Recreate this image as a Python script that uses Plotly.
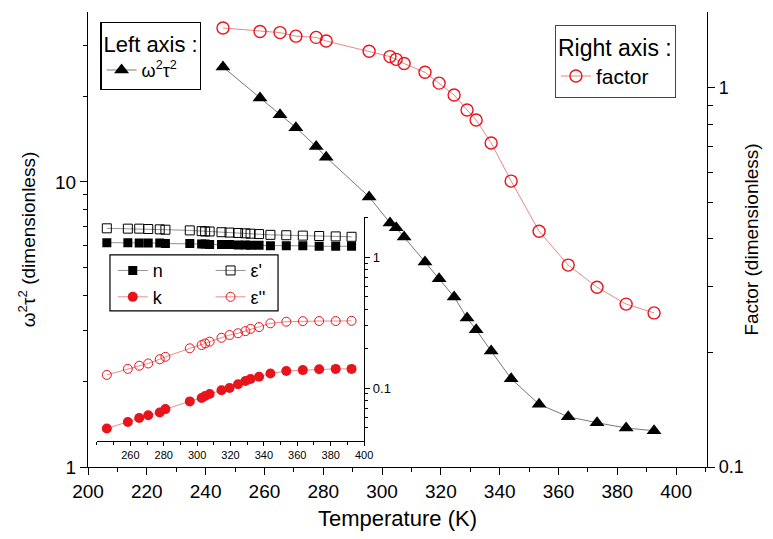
import plotly.graph_objects as go

# ---------------- data ----------------
temperature = [245.9, 258.5, 265.3, 270.7, 277.6, 281.0, 295.6, 302.7, 304.8, 307.5, 314.6,
               319.4, 324.5, 328.9, 332.0, 337.1, 343.9, 353.4, 363.3, 373.1, 383.0, 392.5]
w2t2 = [25.3, 19.7, 17.2, 15.5, 13.3, 12.2, 8.86, 7.18, 6.90, 6.41, 5.24,
        4.57, 3.95, 3.33, 3.03, 2.55, 2.04, 1.66, 1.50, 1.43, 1.37, 1.34]
factor = [1.44, 1.41, 1.40, 1.37, 1.36, 1.33, 1.25, 1.21, 1.19, 1.16, 1.10,
          1.03, 0.958, 0.875, 0.823, 0.716, 0.568, 0.419, 0.341, 0.298, 0.269, 0.255]
n_vals = [1.29, 1.29, 1.28, 1.28, 1.28, 1.27, 1.27, 1.26, 1.26, 1.25, 1.25,
          1.25, 1.24, 1.24, 1.23, 1.23, 1.22, 1.22, 1.22, 1.21, 1.21, 1.21]
k_vals = [0.049, 0.055, 0.059, 0.062, 0.065, 0.069, 0.079, 0.084, 0.087, 0.090, 0.096,
          0.100, 0.107, 0.113, 0.117, 0.122, 0.129, 0.135, 0.137, 0.139, 0.140, 0.140]
eps1_vals = [1.66, 1.65, 1.65, 1.64, 1.63, 1.62, 1.60, 1.58, 1.57, 1.57, 1.55,
             1.54, 1.53, 1.52, 1.51, 1.50, 1.48, 1.47, 1.46, 1.45, 1.44, 1.43]
eps2_vals = [0.126, 0.140, 0.148, 0.154, 0.166, 0.173, 0.201, 0.213, 0.219, 0.226, 0.242,
             0.254, 0.262, 0.272, 0.283, 0.292, 0.312, 0.321, 0.324, 0.325, 0.325, 0.326]

main_x_ticks = [200, 220, 240, 260, 280, 300, 320, 340, 360, 380, 400]
inset_x_ticks = [260, 280, 300, 320, 340, 360, 380, 400]

FONT = "Arial, Liberation Sans, sans-serif"
RED = "#e8141c"

fig = go.Figure()

fig.add_trace(go.Scatter(
    x=temperature, y=w2t2, mode="lines+markers", name="ω<sup>2</sup>τ<sup>2</sup>",
    xaxis="x", yaxis="y", legend="legend",
    marker=dict(symbol="triangle-up", size=13, color="black"),
    line=dict(color="#555555", width=0.8)))

fig.add_trace(go.Scatter(
    x=temperature, y=factor, mode="lines+markers", name="factor",
    xaxis="x", yaxis="y2", legend="legend2",
    marker=dict(symbol="circle-open", size=12, color=RED, line=dict(width=1.4, color=RED)),
    line=dict(color="#e06a6a", width=0.8)))

# inset traces
fig.add_trace(go.Scatter(
    x=temperature, y=n_vals, mode="lines+markers", name="n",
    xaxis="x3", yaxis="y3", legend="legend3",
    marker=dict(symbol="square", size=9, color="black"),
    line=dict(color="#777777", width=0.8)))
fig.add_trace(go.Scatter(
    x=temperature, y=k_vals, mode="lines+markers", name="k",
    xaxis="x3", yaxis="y3", legend="legend3",
    marker=dict(symbol="circle", size=10, color=RED),
    line=dict(color="#e07070", width=0.8)))
fig.add_trace(go.Scatter(
    x=temperature, y=eps1_vals, mode="lines+markers", name="ε'",
    xaxis="x3", yaxis="y3", legend="legend4",
    marker=dict(symbol="square-open", size=9, color="black", line=dict(width=1)),
    line=dict(color="#777777", width=0.8)))
fig.add_trace(go.Scatter(
    x=temperature, y=eps2_vals, mode="lines+markers", name="ε''",
    xaxis="x3", yaxis="y3", legend="legend4",
    marker=dict(symbol="circle-open", size=9, color=RED, line=dict(width=1)),
    line=dict(color="#e07070", width=0.8)))

axis_common = dict(showline=True, linecolor="black", linewidth=1.3, showgrid=False,
                   zeroline=False, tickcolor="black", automargin=False)

fig.update_layout(
    width=757, height=523,
    margin=dict(l=80, r=58, t=4, b=64),
    paper_bgcolor="white", plot_bgcolor="white",
    font=dict(family=FONT, color="black"),
    showlegend=True,
    xaxis=dict(**axis_common, range=[200, 410.5], tickvals=main_x_ticks,
               ticks="outside", ticklen=7, tickwidth=1.3,
               minor=dict(dtick=10, tick0=200, ticks="outside", ticklen=4, tickcolor="black"),
               tickfont=dict(size=19),
               title=dict(text="Temperature (K)", font=dict(size=22), standoff=12),
               anchor="y", domain=[0, 1]),
    xaxis2=dict(**axis_common, range=[200, 410.5], overlaying="x", side="top", anchor="y",
                dtick=10, tick0=200, ticks="inside", ticklen=5, showticklabels=False),
    yaxis=dict(**axis_common, type="log", range=[0, 1.596], tickvals=[1, 10],
               ticktext=["1", "10"], ticks="outside", ticklen=7, tickwidth=1.3,
               minor=dict(tickvals=[2, 3, 4, 5, 6, 7, 8, 9, 20, 30], ticks="outside",
                          ticklen=4, tickcolor="black"),
               tickfont=dict(size=19),
               title=dict(text="ω<sup>2</sup>τ<sup>2</sup> (dimensionless)",
                          font=dict(size=19), standoff=14),
               anchor="x", domain=[0, 1]),
    yaxis2=dict(**axis_common, type="log", range=[-1, 0.2005], overlaying="y", side="right",
                anchor="x", tickvals=[0.1, 1], ticktext=["0.1", "1"],
                ticks="outside", ticklen=7, tickwidth=1.3,
                minor=dict(tickvals=[0.2, 0.3, 0.4, 0.5, 0.6, 0.7, 0.8, 0.9], ticks="outside",
                           ticklen=5, tickcolor="black"),
                tickfont=dict(size=18),
                title=dict(text="Factor (dimensionless)", font=dict(size=19), standoff=1)),
    # inset
    xaxis3=dict(**axis_common, domain=[0.0145, 0.446], anchor="y3", range=[240, 400],
                tickvals=inset_x_ticks, ticks="outside", ticklen=4,
                minor=dict(dtick=10, tick0=240, ticks="outside", ticklen=3, tickcolor="black"),
                tickfont=dict(size=11)),
    xaxis4=dict(**axis_common, domain=[0.0145, 0.446], anchor="y3", overlaying="x3",
                side="top", range=[240, 400], dtick=10, tick0=240, ticks="inside",
                ticklen=4, showticklabels=False),
    yaxis3=dict(**axis_common, domain=[0.0571, 0.549], anchor="x3", side="right",
                type="log", range=[-1.405, 0.305], tickvals=[0.1, 1], ticktext=["0.1", "1"],
                ticks="outside", ticklen=5,
                minor=dict(tickvals=[0.05, 0.06, 0.07, 0.08, 0.09, 0.2, 0.3, 0.4, 0.5,
                                     0.6, 0.7, 0.8, 0.9, 2], ticks="outside", ticklen=3,
                           tickcolor="black"),
                tickfont=dict(size=13)),
    yaxis4=dict(**axis_common, domain=[0.0571, 0.549], anchor="x3", overlaying="y3",
                side="left", type="log", range=[-1.405, 0.305], tickvals=[0.1, 1],
                ticks="inside", ticklen=5, showticklabels=False,
                minor=dict(tickvals=[0.05, 0.06, 0.07, 0.08, 0.09, 0.2, 0.3, 0.4, 0.5,
                                     0.6, 0.7, 0.8, 0.9, 2], ticks="inside", ticklen=3,
                           tickcolor="black")),
    legend=dict(x=0.02, y=0.978, xanchor="left", yanchor="top",
                bordercolor="black", borderwidth=1.2, bgcolor="white",
                title=dict(text="Left axis :", font=dict(size=22)),
                font=dict(size=18), tracegroupgap=0),
    legend2=dict(x=0.754, y=0.972, xanchor="left", yanchor="top",
                 bordercolor="#444", borderwidth=1.2, bgcolor="white",
                 title=dict(text="Right axis :", font=dict(size=23)),
                 font=dict(size=21)),
    legend3=dict(x=0.040, y=0.472, xanchor="left", yanchor="top",
                 bgcolor="rgba(0,0,0,0)", borderwidth=0, font=dict(size=18)),
    legend4=dict(x=0.198, y=0.472, xanchor="left", yanchor="top",
                 bgcolor="rgba(0,0,0,0)", borderwidth=0, font=dict(size=18)),
    shapes=[dict(type="rect", xref="paper", yref="paper", x0=0.0355, x1=0.307,
                 y0=0.343, y1=0.466, line=dict(color="black", width=1.2),
                 fillcolor="rgba(0,0,0,0)", layer="above")],
)

fig.write_html("out.html")
